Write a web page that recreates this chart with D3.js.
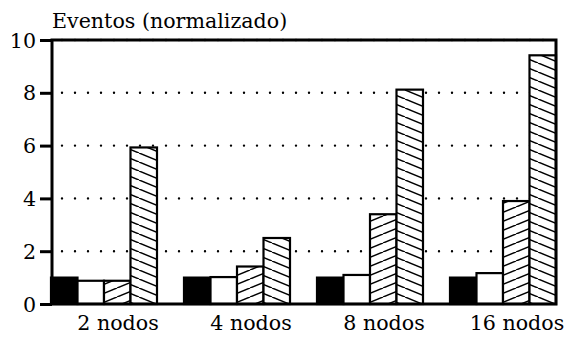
<!DOCTYPE html>
<html>
<head>
<meta charset="utf-8">
<script src="https://cdn.jsdelivr.net/npm/d3@7"></script>
<style>
  body { margin: 0; background: #fff; }
  svg text { font-family: "DejaVu Serif"; font-size: 20.6px; fill: #000; }
</style>
</head>
<body>
<div id="chart"></div>
<script>
// categories and series
const groups = ["2 nodos", "4 nodos", "8 nodos", "16 nodos"];
const seriesNames = ["s1", "s2", "s3", "s4"];
const s1 = [1.0, 1.0, 1.0, 1.0];
const s2 = [0.88, 1.02, 1.1, 1.17];
const s3 = [0.88, 1.42, 3.4, 3.9];
const s4 = [5.93, 2.5, 8.12, 9.42];
const yTicks = [0, 2, 4, 6, 8, 10];

const width = 565, height = 338;
const mLeft = 52, mRight = 556, mTop = 40, mBottom = 304;

const svg = d3.select("#chart").append("svg")
  .attr("width", width)
  .attr("height", height);

// hatch patterns
const defs = svg.append("defs");
function hatch(id, dir) {
  const w = 22, h = 9;
  const p = defs.append("pattern")
    .attr("id", id)
    .attr("patternUnits", "userSpaceOnUse")
    .attr("width", w)
    .attr("height", h);
  p.append("rect").attr("width", w).attr("height", h).attr("fill", "#fff");
  const segs = dir === "up"
    ? [[0, h, w, 0], [-w, h, 0, 0], [w, h, 2 * w, 0]]
    : [[0, 0, w, h], [-w, 0, 0, h], [w, 0, 2 * w, h]];
  segs.forEach(s => {
    p.append("line")
      .attr("x1", s[0]).attr("y1", s[1])
      .attr("x2", s[2]).attr("y2", s[3])
      .attr("stroke", "#000").attr("stroke-width", 1.5);
  });
}
hatch("hUp", "up");
hatch("hDown", "down");

const fills = ["#000", "#fff", "url(#hUp)", "url(#hDown)"];

const x0 = d3.scaleBand().domain(groups).range([51, mRight]).paddingInner(0.203).paddingOuter(0);
const x1 = d3.scaleBand().domain(seriesNames).range([0, x0.bandwidth()]);
const y = d3.scaleLinear().domain([0, 10]).range([mBottom, mTop]);

// dotted grid
svg.append("g")
  .selectAll("line")
  .data(yTicks.filter(d => d > 0))
  .enter()
  .append("line")
  .attr("x1", mLeft + 10)
  .attr("x2", mRight)
  .attr("y1", d => y(d))
  .attr("y2", d => y(d))
  .attr("stroke", "#000")
  .attr("stroke-width", 2.4)
  .attr("stroke-linecap", "round")
  .attr("stroke-dasharray", "0,13");

// bars
const table = groups.map((g, i) => ({ group: g, values: [s1[i], s2[i], s3[i], s4[i]] }));

const gg = svg.append("g")
  .selectAll("g")
  .data(table)
  .enter()
  .append("g")
  .attr("transform", d => `translate(${x0(d.group)},0)`);

gg.selectAll("rect")
  .data(d => d.values.map((v, k) => ({ key: seriesNames[k], v: v, k: k })))
  .enter()
  .append("rect")
  .attr("x", d => x1(d.key))
  .attr("width", x1.bandwidth())
  .attr("y", d => y(d.v))
  .attr("height", d => y(0) - y(d.v))
  .attr("fill", d => fills[d.k])
  .attr("stroke", "#000")
  .attr("stroke-width", 2.2);

// frame
const frame = svg.append("g").attr("stroke", "#000").attr("stroke-width", 3).attr("fill", "none");
frame.append("path").attr("d", `M${mLeft},${mTop}H${mRight}V${mBottom}H${mLeft}Z`);

// y axis
const yAxis = d3.axisLeft(y).tickValues(yTicks).tickSize(12).tickPadding(4);
const ya = svg.append("g").attr("transform", `translate(${mLeft},0)`).call(yAxis);
ya.select(".domain").remove();
ya.selectAll(".tick line").attr("stroke", "#000").attr("stroke-width", 3);
ya.selectAll(".tick text").attr("dy", "0.34em");

// x labels
svg.append("g")
  .selectAll("text")
  .data(groups)
  .enter()
  .append("text")
  .attr("x", d => x0(d) + x0.bandwidth() / 2 + 14)
  .attr("y", 330)
  .attr("text-anchor", "middle")
  .text(d => d);

// axis title
svg.append("text")
  .attr("x", 52)
  .attr("y", 28)
  .text("Eventos (normalizado)");
</script>
</body>
</html>
